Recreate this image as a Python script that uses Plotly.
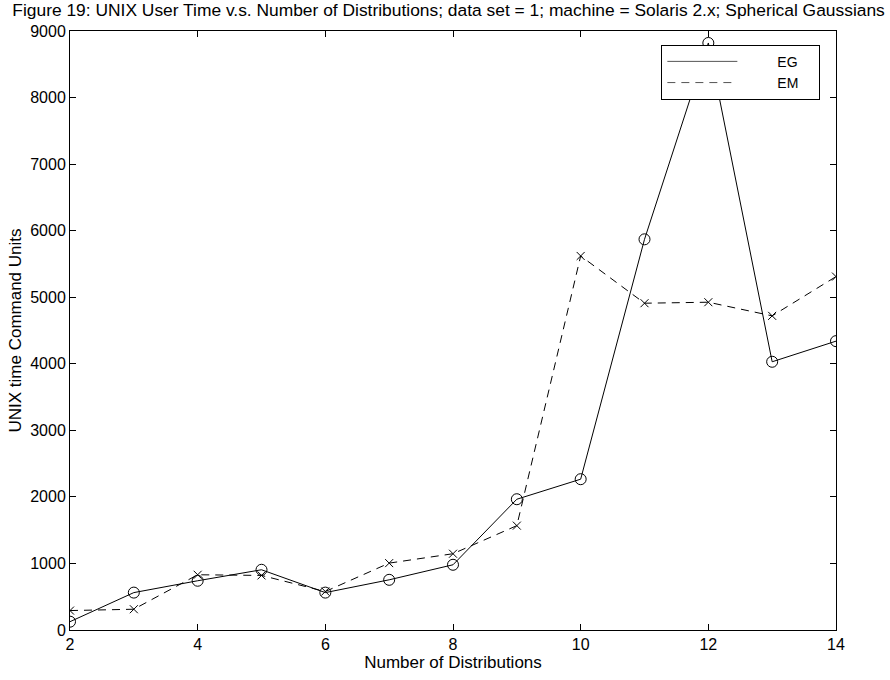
import plotly.graph_objects as go

n_dist = [2, 3, 4, 5, 6, 7, 8, 9, 10, 11, 12, 13, 14]
eg_time = [125, 562, 740, 905, 562, 754, 980, 1965, 2266, 5870, 8820, 4030, 4340]
em_time = [292, 312, 830, 820, 578, 1005, 1146, 1568, 5620, 4910, 4925, 4720, 5310]
x_ticks = [2, 4, 6, 8, 10, 12, 14]
y_ticks = [0, 1000, 2000, 3000, 4000, 5000, 6000, 7000, 8000, 9000]

FONT = "Liberation Sans, Arial, sans-serif"
NB = "\u00a0"
fig = go.Figure()
fig.add_trace(go.Scatter(x=n_dist, y=eg_time, mode="lines+markers", showlegend=False,
                         line=dict(color="black", width=1),
                         marker=dict(symbol="circle-open", size=11, color="black", line=dict(width=1))))
fig.add_trace(go.Scatter(x=n_dist, y=em_time, mode="lines+markers", showlegend=False,
                         line=dict(color="black", width=1, dash="8px,6px"),
                         marker=dict(symbol="x-thin-open", size=8, color="black", line=dict(width=1))))
fig.add_trace(go.Scatter(x=[None], y=[None], mode="lines", name=NB * 9 + "EG" + NB * 4,
                         line=dict(color="#555555", width=1)))
fig.add_trace(go.Scatter(x=[None], y=[None], mode="lines", name=NB * 9 + "EM" + NB * 4,
                         line=dict(color="#555555", width=1, dash="8px,6px")))

axis_common = dict(showgrid=False, zeroline=False, showline=True, linecolor="black", linewidth=1,
                   mirror="ticks", ticks="inside", ticklen=6, tickcolor="black",
                   tickfont=dict(family=FONT, size=16, color="black"))
fig.update_xaxes(range=[2, 14], tickvals=x_ticks,
                 title=dict(text="Number of Distributions", font=dict(family=FONT, size=17, color="black"), standoff=0),
                 **axis_common)
fig.update_yaxes(range=[0, 9000], tickvals=y_ticks,
                 title=dict(text="UNIX time Command Units", font=dict(family=FONT, size=17, color="black"), standoff=4),
                 **axis_common)
fig.update_layout(
    width=890, height=680,
    margin=dict(l=70, r=54, t=31, b=50),
    plot_bgcolor="white", paper_bgcolor="white",
    title=dict(text="Figure 19: UNIX User Time v.s. Number of Distributions; data set = 1; machine = Solaris 2.x; Spherical Gaussians",
               font=dict(family=FONT, size=17.4, color="black"), x=0.504, xanchor="center",
               yref="container", y=1 - 4 / 680, yanchor="top"),
    legend=dict(x=0.772, y=0.977, xanchor="left", yanchor="top", bgcolor="white",
                bordercolor="black", borderwidth=1, font=dict(family=FONT, size=14, color="black"),
                tracegroupgap=0, itemwidth=70),
    font=dict(family=FONT, size=16, color="black"),
)
fig.write_html("out.html")
